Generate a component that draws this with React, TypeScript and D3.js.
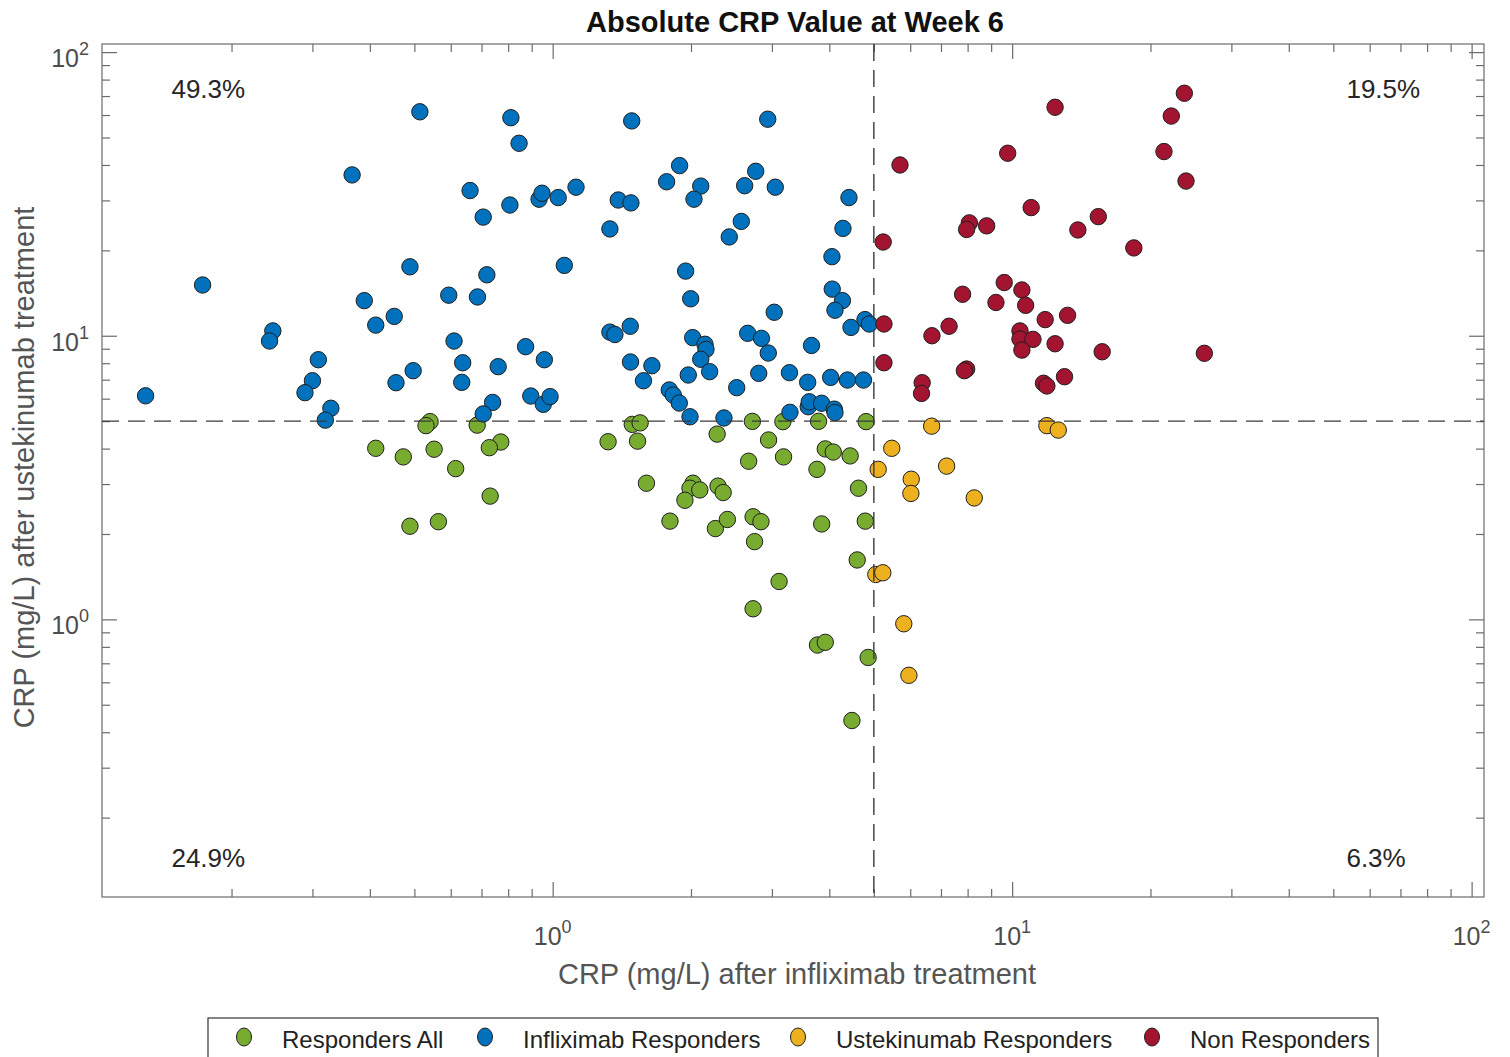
import { useEffect, useRef } from "react";
import * as d3 from "d3";

type Point = [number, number];

// CRP (mg/L): [after infliximab, after ustekinumab]
const respondersAll: Point[] = [
  [0.541, 4.98], [0.53, 4.82], [0.685, 4.84], [0.412, 4.01], [0.473, 3.74],
  [0.552, 3.98], [0.615, 3.4], [0.489, 2.13], [0.564, 2.21], [0.771, 4.22],
  [0.728, 4.03], [0.731, 2.72], [1.49, 4.87], [1.55, 4.93], [1.32, 4.23],
  [1.53, 4.25], [1.6, 3.02], [2.02, 3.02], [1.99, 2.9], [2.09, 2.86],
  [1.94, 2.63], [2.29, 2.95], [2.35, 2.8], [2.28, 4.5], [2.72, 4.99],
  [2.95, 4.29], [2.67, 3.61], [3.18, 3.74], [3.17, 4.98], [3.79, 4.99],
  [3.92, 3.99], [4.08, 3.89], [4.44, 3.77], [3.76, 3.38], [1.8, 2.22],
  [2.26, 2.09], [2.4, 2.25], [2.73, 2.3], [2.84, 2.21], [2.75, 1.88],
  [3.85, 2.17], [3.11, 1.36], [2.73, 1.09], [3.77, 0.812], [3.92, 0.83],
  [4.48, 0.44], [4.81, 4.98], [4.63, 2.9], [4.79, 2.22], [4.6, 1.62],
  [4.86, 0.734],
];

const infliximabResponders: Point[] = [
  [0.514, 61.6], [0.366, 36.9], [0.661, 32.5], [0.489, 17.5], [0.173, 15.1],
  [0.594, 13.9], [0.686, 13.7], [0.389, 13.3], [0.452, 11.7], [0.412, 10.9],
  [0.246, 10.4], [0.242, 9.58], [0.61, 9.58], [0.309, 8.23], [0.637, 8.03],
  [0.497, 7.53], [0.3, 6.94], [0.456, 6.83], [0.634, 6.85], [0.289, 6.3],
  [0.13, 6.14], [0.329, 5.55], [0.32, 5.04],
  [0.811, 58.7], [0.845, 47.7], [1.486, 57.2], [2.938, 58.0], [1.889, 39.8],
  [1.77, 34.9], [2.1, 33.7], [2.03, 30.3], [2.766, 38.0], [2.617, 33.8],
  [3.051, 33.4], [4.414, 30.7], [0.706, 26.2], [0.807, 28.9], [0.934, 30.3],
  [0.948, 31.8], [1.028, 30.7], [1.124, 33.4], [1.389, 30.1], [1.48, 29.4],
  [1.332, 23.8], [2.573, 25.3], [2.423, 22.3], [4.283, 23.9], [4.053, 19.0],
  [0.719, 16.4], [1.06, 17.7], [1.947, 16.9], [1.997, 13.5], [4.059, 14.6],
  [4.272, 13.3], [4.115, 12.3], [3.035, 12.1], [4.459, 10.7], [4.783, 11.4],
  [4.887, 11.0], [1.332, 10.3], [1.366, 10.1], [1.475, 10.8], [0.873, 9.15],
  [0.959, 8.23], [0.761, 7.78], [0.74, 5.82], [0.706, 5.3], [0.896, 6.13],
  [0.954, 5.73], [0.987, 6.1], [1.477, 8.08], [1.644, 7.84], [1.576, 6.94],
  [2.017, 9.85], [2.145, 9.33], [2.156, 8.95], [2.1, 8.26], [2.196, 7.47],
  [1.973, 7.27], [1.794, 6.44], [1.83, 6.18], [1.886, 5.79], [1.99, 5.18],
  [2.359, 5.13], [2.515, 6.56], [2.657, 10.2], [2.847, 9.79], [2.946, 8.69],
  [2.808, 7.37], [3.276, 7.41], [3.589, 6.85], [3.658, 9.24], [4.027, 7.13],
  [4.381, 6.98], [4.747, 6.98], [3.599, 5.62], [3.617, 5.85], [3.849, 5.78],
  [4.101, 5.51], [4.115, 5.36], [3.284, 5.37],
];

const ustekinumabResponders: Point[] = [
  [6.68, 4.8], [5.47, 4.01], [5.11, 3.38], [7.2, 3.47], [6.03, 3.12],
  [6.02, 2.78], [8.27, 2.68], [11.9, 4.82], [12.6, 4.65], [5.05, 1.44],
  [5.23, 1.46], [5.81, 0.965], [5.96, 0.635],
];

const nonResponders: Point[] = [
  [23.7, 71.6], [22.2, 59.5], [12.4, 63.9], [21.4, 44.6], [23.9, 35.1],
  [5.7, 40.0], [9.78, 44.0], [11.0, 28.3], [15.4, 26.3], [13.9, 23.6],
  [18.4, 20.4], [8.07, 25.0], [7.96, 23.7], [8.8, 24.4], [5.24, 21.4],
  [9.61, 15.4], [10.5, 14.5], [10.7, 12.8], [9.22, 13.1], [7.8, 14.0],
  [11.8, 11.4], [13.2, 11.8], [10.4, 10.4], [10.4, 9.74], [11.1, 9.71],
  [10.5, 8.9], [12.4, 9.37], [15.7, 8.78], [26.2, 8.67], [5.26, 11.0],
  [7.29, 10.8], [6.69, 10.0], [5.26, 8.03], [7.96, 7.63], [7.87, 7.53],
  [6.37, 6.83], [6.35, 6.26], [11.7, 6.8], [11.9, 6.65], [13.0, 7.17],
];

const seriesNames = [
  "Responders All",
  "Infliximab Responders",
  "Ustekinumab Responders",
  "Non Responders",
];
const seriesData = [respondersAll, infliximabResponders, ustekinumabResponders, nonResponders];

// quadrant shares, placed at [x, y] in data units
const quadrantLabels = ["49.3%", "19.5%", "24.9%", "6.3%"];
const quadrantPositions: Point[] = [[0.148, 74], [53.4, 74], [0.148, 0.144], [53.4, 0.144]];

const cutoff = 5;
const xDomain = [0.1045, 106.4];
const yDomain = [0.105, 106.8];
const majorTicks = [1, 10, 100];
const majorTickExponents = ["0", "1", "2"];

const App = () => {
  const ref = useRef<SVGSVGElement>(null);

  useEffect(() => {
    document.body.style.margin = "0";
    draw();
  }, []);

  const draw = () => {
    const width = 1510;
    const height = 1057;
    const margin = { top: 44, right: 26, bottom: 160, left: 102 };
    const font = "'Liberation Sans', Arial, Helvetica, sans-serif";
    const colors = ["#77AC30", "#0072BD", "#EDB120", "#A2142F"];
    const axisColor = "#6b6b6b";
    const radius = 8.2;

    const svg = d3
      .select(ref.current)
      .attr("width", width)
      .attr("height", height)
      .style("display", "block")
      .style("font-family", font);
    svg.selectAll("*").remove();

    const x = d3
      .scaleLog()
      .domain(xDomain)
      .range([margin.left, width - margin.right]);
    const y = d3
      .scaleLog()
      .domain(yDomain)
      .range([height - margin.bottom, margin.top]);

    const [x0, x1] = x.range();
    const [y0, y1] = y.range();

    svg.append("rect").attr("width", width).attr("height", height).attr("fill", "#fff");

    // box
    svg
      .append("rect")
      .attr("x", x0)
      .attr("y", y1)
      .attr("width", x1 - x0)
      .attr("height", y0 - y1)
      .attr("fill", "none")
      .attr("stroke", axisColor)
      .attr("stroke-width", 1.2);

    // inward ticks on all four sides
    const minorX = x.ticks().filter((t) => !majorTicks.includes(t));
    const minorY = y.ticks().filter((t) => !majorTicks.includes(t));

    const addTicks = (axis: any, transform: string) =>
      svg
        .append("g")
        .attr("transform", transform)
        .call(axis)
        .call((g: any) => g.select(".domain").remove())
        .call((g: any) => g.selectAll("text").remove())
        .call((g: any) => g.selectAll("line").attr("stroke", axisColor).attr("stroke-width", 1.2));

    [
      [minorX, 8],
      [majorTicks, 15],
    ].forEach(([vals, size]: any) => {
      addTicks(d3.axisBottom(x).tickValues(vals).tickSize(-size), `translate(0,${y0})`);
      addTicks(d3.axisTop(x).tickValues(vals).tickSize(-size), `translate(0,${y1})`);
    });
    [
      [minorY, 8],
      [majorTicks, 15],
    ].forEach(([vals, size]: any) => {
      addTicks(d3.axisLeft(y).tickValues(vals).tickSize(-size), `translate(${x0},0)`);
      addTicks(d3.axisRight(y).tickValues(vals).tickSize(-size), `translate(${x1},0)`);
    });

    // 10^n tick labels
    const tickColor = "#4d4d4d";
    majorTicks.forEach((t, i) => {
      const tx = svg
        .append("text")
        .attr("x", x(t))
        .attr("y", y0 + 48)
        .attr("text-anchor", "middle")
        .attr("fill", tickColor)
        .attr("font-size", 25);
      tx.append("tspan").text("10");
      tx.append("tspan").attr("dy", -12).attr("font-size", 18).text(majorTickExponents[i]);

      const ty = svg
        .append("text")
        .attr("x", x0 - 13)
        .attr("y", y(t) + 15)
        .attr("text-anchor", "end")
        .attr("fill", tickColor)
        .attr("font-size", 25);
      ty.append("tspan").text("10");
      ty.append("tspan").attr("dy", -12).attr("font-size", 18).text(majorTickExponents[i]);
    });

    // markers
    seriesData.forEach((data, i) => {
      svg
        .append("g")
        .attr("stroke", "#1f1f1f")
        .attr("stroke-width", 1)
        .attr("fill", colors[i])
        .selectAll("circle")
        .data(data)
        .join("circle")
        .attr("cx", (d) => x(d[0]))
        .attr("cy", (d) => y(d[1]))
        .attr("r", radius);
    });

    // cutoff lines
    const dashed = (g: any) =>
      g.attr("stroke", "#3a3a3a").attr("stroke-width", 1.4).attr("stroke-dasharray", "17 9");
    svg
      .append("line")
      .attr("x1", x(cutoff))
      .attr("x2", x(cutoff))
      .attr("y1", y1)
      .attr("y2", y0)
      .call(dashed);
    svg
      .append("line")
      .attr("x1", x0)
      .attr("x2", x1)
      .attr("y1", y(cutoff))
      .attr("y2", y(cutoff))
      .call(dashed);

    // quadrant percentages
    svg
      .append("g")
      .selectAll("text")
      .data(quadrantLabels)
      .join("text")
      .attr("x", (d, i) => x(quadrantPositions[i][0]))
      .attr("y", (d, i) => y(quadrantPositions[i][1]))
      .attr("dy", "0.35em")
      .attr("fill", "#262626")
      .attr("font-size", 26)
      .text((d) => d);

    // titles
    svg
      .append("text")
      .attr("x", 795)
      .attr("y", 32)
      .attr("text-anchor", "middle")
      .attr("font-size", 29)
      .attr("font-weight", "bold")
      .attr("fill", "#111")
      .text("Absolute CRP Value at Week 6");

    svg
      .append("text")
      .attr("x", (x0 + x1) / 2 + 4)
      .attr("y", 984)
      .attr("text-anchor", "middle")
      .attr("font-size", 29)
      .attr("fill", "#555")
      .text("CRP (mg/L) after infliximab treatment");

    svg
      .append("text")
      .attr("transform", `translate(34, ${(y0 + y1) / 2 - 3}) rotate(-90)`)
      .attr("text-anchor", "middle")
      .attr("font-size", 29)
      .attr("fill", "#555")
      .text("CRP (mg/L) after ustekinumab treatment");

    // legend
    const legendMarkerX = [244, 485, 798, 1152];
    const legend = svg.append("g");
    legend
      .append("rect")
      .attr("x", 208)
      .attr("y", 1018)
      .attr("width", 1170)
      .attr("height", 50)
      .attr("fill", "#fff")
      .attr("stroke", "#333")
      .attr("stroke-width", 1.2);
    seriesNames.forEach((name, i) => {
      legend
        .append("ellipse")
        .attr("cx", legendMarkerX[i])
        .attr("cy", 1037)
        .attr("rx", 7.5)
        .attr("ry", 9)
        .attr("fill", colors[i])
        .attr("stroke", "#1f1f1f");
      legend
        .append("text")
        .attr("x", legendMarkerX[i] + 38)
        .attr("y", 1048)
        .attr("font-size", 24)
        .attr("fill", "#222")
        .text(name);
    });
  };

  return (
    <div id="crp-graph">
      <svg ref={ref}></svg>
    </div>
  );
};

export default App;
